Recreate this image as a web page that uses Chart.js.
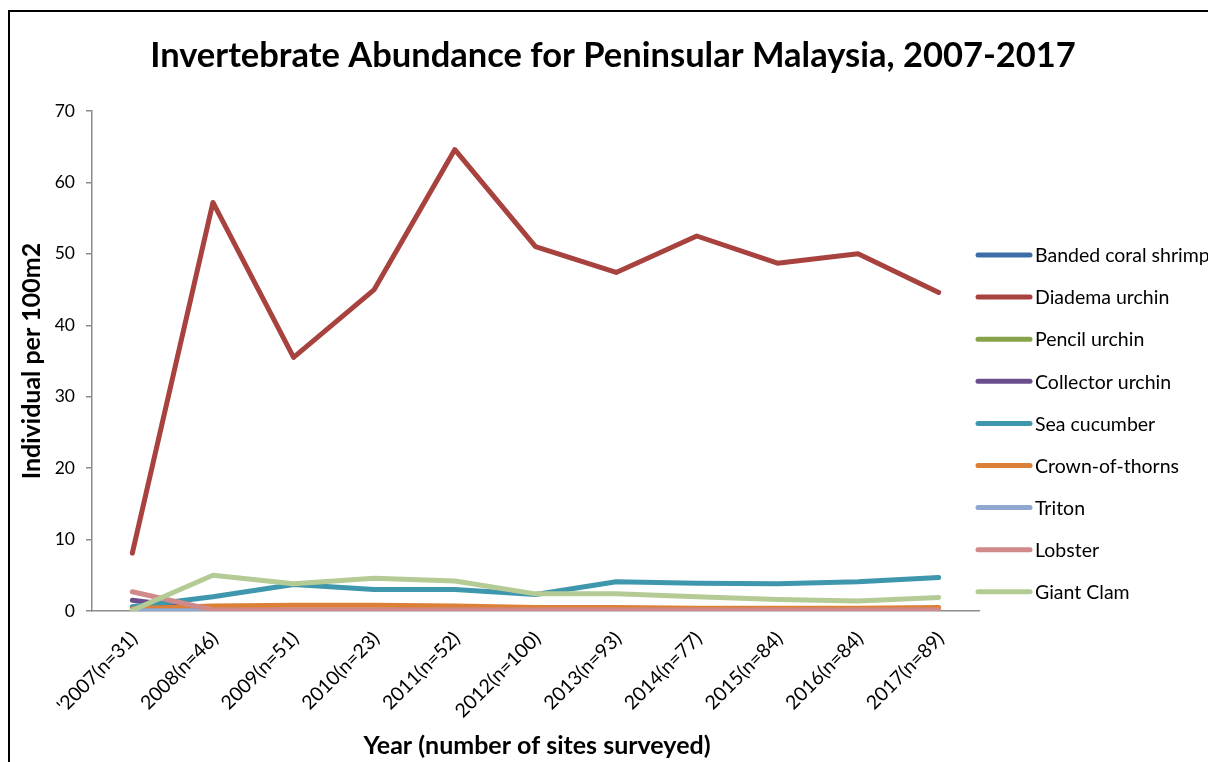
<!DOCTYPE html>
<html>
<head>
<meta charset="utf-8">
<script src="https://cdn.jsdelivr.net/npm/chart.js@4/dist/chart.umd.min.js"></script>
<style>
  html, body { margin: 0; padding: 0; background: #fff; overflow: hidden; }
  #wrap { position: relative; width: 1208px; height: 762px; }
  canvas { display: block; }
</style>
</head>
<body>
<div id="wrap"><canvas id="c" width="1208" height="762"></canvas></div>
<script>
const categories = ["'2007(n=31)", "2008(n=46)", "2009(n=51)", "2010(n=23)", "2011(n=52)", "2012(n=100)", "2013(n=93)", "2014(n=77)", "2015(n=84)", "2016(n=84)", "2017(n=89)"];
const seriesNames = ["Banded coral shrimp", "Diadema urchin", "Pencil urchin", "Collector urchin", "Sea cucumber", "Crown-of-thorns", "Triton", "Lobster", "Giant Clam"];
const bandedCoralShrimp = [0.05, 0.05, 0.05, 0.05, 0.05, 0.05, 0.05, 0.05, 0.05, 0.05, 0.05];
const diademaUrchin = [8.1, 57.2, 35.5, 45.0, 64.6, 51.0, 47.4, 52.5, 48.7, 50.0, 44.6];
const pencilUrchin = [0.05, 0.05, 0.05, 0.05, 0.05, 0.05, 0.05, 0.05, 0.05, 0.05, 0.05];
const collectorUrchin = [1.5, 0.1, 0.1, 0.1, 0.1, 0.1, 0.1, 0.1, 0.1, 0.1, 0.1];
const seaCucumber = [0.6, 2.0, 3.7, 3.0, 3.0, 2.3, 4.1, 3.9, 3.8, 4.1, 4.7];
const crownOfThorns = [0.3, 0.7, 0.8, 0.8, 0.7, 0.5, 0.5, 0.4, 0.4, 0.4, 0.5];
const triton = [0.05, 0.05, 0.05, 0.05, 0.05, 0.05, 0.05, 0.05, 0.05, 0.05, 0.05];
const lobster = [2.7, 0.15, 0.15, 0.15, 0.15, 0.15, 0.15, 0.15, 0.15, 0.15, 0.15];
const giantClam = [0.1, 5.0, 3.8, 4.6, 4.2, 2.4, 2.4, 2.0, 1.6, 1.4, 1.9];
const yTicks = [0, 10, 20, 30, 40, 50, 60, 70];

const seriesValues = [bandedCoralShrimp, diademaUrchin, pencilUrchin, collectorUrchin, seaCucumber, crownOfThorns, triton, lobster, giantClam];
const seriesColors = ["#3E6EA8", "#A8423F", "#86A34A", "#6A4E8C", "#3F97AE", "#DD8037", "#8FA8CF", "#D08A89", "#B5CB95"];

const FONT = "Lato, Calibri, 'Noto Sans', sans-serif";

const datasets = seriesNames.map((name, i) => ({
  label: name,
  data: seriesValues[i],
  borderColor: seriesColors[i],
  backgroundColor: seriesColors[i],
  borderWidth: 5,
  pointRadius: 0,
  pointHoverRadius: 0,
  tension: 0,
  fill: false,
  borderCapStyle: 'round',
  borderJoinStyle: 'round',
  order: seriesNames.length - i
}));

const decor = {
  id: 'decor',
  beforeDraw(chart) {
    const ctx = chart.ctx;
    ctx.save();
    ctx.fillStyle = '#fff';
    ctx.fillRect(0, 0, chart.width, chart.height);
    ctx.strokeStyle = '#000';
    ctx.lineWidth = 2;
    ctx.strokeRect(9, 11, 3000, 3000);
    ctx.restore();
  },
  afterDraw(chart) {
    const ctx = chart.ctx;
    ctx.save();
    ctx.fillStyle = '#000';
    ctx.textAlign = 'center';
    ctx.textBaseline = 'middle';
    ctx.font = "bold 34.5px " + FONT;
    ctx.fillText("Invertebrate Abundance for Peninsular Malaysia, 2007-2017", 613, 56);
    ctx.font = "bold 25px " + FONT;
    ctx.fillText("Year (number of sites surveyed)", 537, 746);
    ctx.translate(32, 361);
    ctx.rotate(-Math.PI / 2);
    ctx.font = "bold 25px " + FONT;
    ctx.fillText("Individual per 100m2", 0, 0);
    ctx.restore();

    // legend
    ctx.save();
    ctx.font = "19.5px " + FONT;
    ctx.textAlign = 'left';
    ctx.textBaseline = 'middle';
    chart.data.datasets.forEach((ds, i) => {
      const y = 255 + i * 42.1;
      ctx.strokeStyle = ds.borderColor;
      ctx.lineWidth = 5;
      ctx.lineCap = 'round';
      ctx.beginPath();
      ctx.moveTo(978, y);
      ctx.lineTo(1030, y);
      ctx.stroke();
      ctx.fillStyle = '#000';
      ctx.fillText(ds.label, 1035, y + 1);
    });
    ctx.restore();
  }
};

new Chart(document.getElementById('c'), {
  type: 'line',
  data: { labels: categories, datasets },
  options: {
    responsive: false,
    animation: false,
    events: [],
    layout: { padding: { top: 111, right: 229, left: 0, bottom: 0 } },
    plugins: { legend: { display: false }, title: { display: false }, tooltip: { enabled: false } },
    scales: {
      x: {
        offset: true,
        grid: { display: false },
        border: { display: true, color: '#8C8C8C', width: 1.5 },
        ticks: {
          font: { family: FONT, size: 19.5 },
          color: '#000',
          minRotation: 45,
          maxRotation: 45,
          autoSkip: false,
          padding: 8,
          labelOffset: 2
        },
        afterFit(scale) { scale.height = 151; }
      },
      y: {
        min: 0,
        max: 70,
        afterBuildTicks(scale) { scale.ticks = yTicks.map(v => ({ value: v })); },
        grid: { drawOnChartArea: false, drawTicks: true, tickLength: 6, color: '#8C8C8C', lineWidth: 1.5 },
        border: { display: true, color: '#8C8C8C', width: 1.5 },
        ticks: {
          font: { family: FONT, size: 17.5 },
          color: '#000',
          padding: 11
        },
        afterFit(scale) { scale.width = 92; }
      }
    }
  },
  plugins: [decor]
});
</script>
</body>
</html>
